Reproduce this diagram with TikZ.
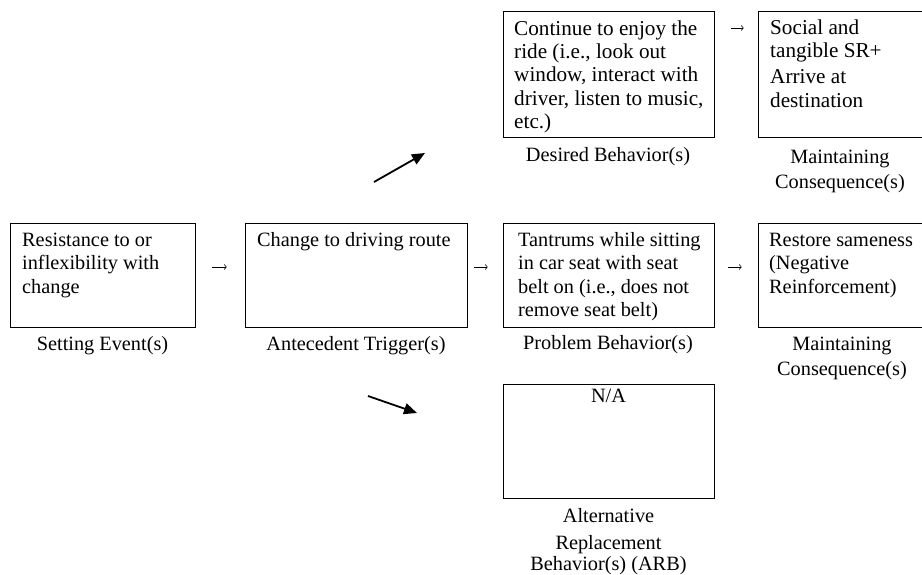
\documentclass[tikz,border=0pt]{standalone}
\usepackage{fontspec}
\setmainfont{Liberation Serif}
\usetikzlibrary{arrows.meta}

\tikzset{
  box/.style={draw, line width=0.8pt, inner sep=0pt, rectangle},
  boxtext/.style={anchor=north west, inner sep=0pt, align=left,
    font=\fontsize{20.3}{23.5}\selectfont},
  toptext/.style={anchor=north west, inner sep=0pt, align=left,
    font=\fontsize{21.2}{23.4}\selectfont},
  caption/.style={anchor=base, inner sep=0pt, align=center,
    font=\fontsize{20.3}{25}\selectfont},
  flow/.style={line width=0.6pt, -{To[length=2.6pt,width=5.5pt]}},
  branch/.style={line width=1.8pt, -{Triangle[length=13pt,width=11pt]}}
}

\begin{document}
\begin{tikzpicture}[x=1pt,y=-1pt]
\useasboundingbox (0,0) rectangle (922,575);

% middle row of boxes
\node[box, minimum width=185pt, minimum height=104pt] (setting) at (102.5,275) {};
\node[box, minimum width=222pt, minimum height=104pt] (trigger) at (356,275) {};
\node[box, minimum width=211pt, minimum height=104pt] (problem) at (608.5,275) {};
\node[box, minimum width=167pt, minimum height=104pt] (consmid) at (841.5,275) {};

% top row of boxes
\node[box, minimum width=211pt, minimum height=126pt] (desired) at (608.5,74.5) {};
\node[box, minimum width=167pt, minimum height=126pt] (constop) at (841.5,74.5) {};

% bottom box
\node[box, minimum width=211pt, minimum height=114pt] (alt) at (608.5,441) {};

% box contents
\node[boxtext] (settingtxt) at (22,229.5) {\strut Resistance to or\\inflexibility with\\change};
\node[boxtext] (triggertxt) at (257,229.5) {\strut Change to driving route};
\node[boxtext] (problemtxt) at (518,229.5) {\strut Tantrums while sitting\\in car seat with seat\\belt on (i.e., does not\\remove seat belt)};
\node[boxtext] (consmidtxt) at (769,229.5) {\strut Restore sameness\\(Negative\\Reinforcement)};
\node[toptext] (desiredtxt) at (514,18.6) {\strut Continue to enjoy the\\ride (i.e., look out\\window, interact with\\driver, listen to music,\\etc.)};
\node[toptext] (constoptxt) at (770,17.6) {\strut Social and\\tangible SR+\\[3pt]Arrive at\\destination};
\node[caption] (alttxt) at (608.5,402) {N/A};

% captions under the boxes (base = last line)
\node[caption] (settingcap) at (102.5,350) {Setting Event(s)};
\node[caption] (triggercap) at (356,350) {Antecedent Trigger(s)};
\node[caption] (problemcap) at (608,349) {Problem Behavior(s)};
\node[caption] (consmidcap) at (842,375) {Maintaining\\Consequence(s)};
\node[caption] (desiredcap) at (608,162) {Desired Behavior(s)};
\node[caption] (constopcap) at (840,189) {Maintaining\\Consequence(s)};
\node[caption] (altcap) at (608.5,570) {Alternative\\[2pt]Replacement\\[-4pt]Behavior(s) (ARB)};

% small flow arrows between boxes
\draw[flow, shorten <=17pt, shorten >=18pt] ([yshift=8pt]setting.east) -- ([yshift=8pt]trigger.west);
\draw[flow, shorten <=7pt, shorten >=15pt] ([yshift=8pt]trigger.east) -- ([yshift=8pt]problem.west);
\draw[flow, shorten <=14pt, shorten >=16pt] ([yshift=8pt]problem.east) -- ([yshift=8pt]consmid.west);
\draw[flow, shorten <=17pt, shorten >=14pt] ([yshift=46.5pt]desired.east) -- ([yshift=46.5pt]constop.west);

% branch arrows towards desired and alternative behaviour
\coordinate (upstart) at (374,182);
\coordinate (upend) at (425,153);
\coordinate (downstart) at (368,396);
\coordinate (downend) at (417,413);
\draw[branch] (upstart) -- (upend);
\draw[branch] (downstart) -- (downend);
\end{tikzpicture}
\end{document}
